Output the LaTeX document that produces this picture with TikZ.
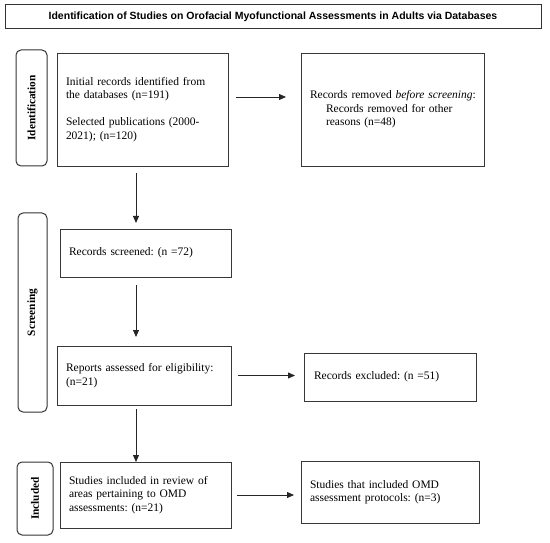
\documentclass[tikz,border=0pt]{standalone}
\usepackage{fontspec}
\usepackage{graphicx}
\setmainfont{Liberation Serif}
\newfontfamily\titlefont{Liberation Sans}
\usetikzlibrary{arrows.meta}
\frenchspacing
\hyphenpenalty=10000
\begin{document}
\begin{tikzpicture}[x=1pt,y=-1pt,
  box/.style={draw=black!78, line width=0.9pt, rectangle, anchor=north west, align=left,
    inner xsep=9pt, inner ysep=0pt, outer sep=0pt, font=\fontsize{11.5}{13.5}\selectfont},
  phase/.style={draw=black!80, line width=1pt, rounded corners=5pt, inner sep=0pt, outer sep=0pt,
    font=\fontsize{11.3}{13}\selectfont\bfseries},
  arr/.style={draw=black!85, line width=0.8pt, -{Triangle[length=7pt,width=6pt]}}
]
\useasboundingbox (0,0) rectangle (550,543);

% title
\node[draw=black!80, line width=1pt, minimum width=536pt, minimum height=24pt, inner sep=0pt,
  font=\titlefont\fontsize{10.5}{12}\selectfont\bfseries] (title) at (273,17)
  {Identification of Studies on Orofacial Myofunctional Assessments in Adults via Databases};

% phase labels
\node[phase, minimum width=31pt, minimum height=116pt] (idl) at (31.5,108) {\rotatebox{90}{Identification}};
\node[phase, minimum width=29pt, minimum height=199pt] (scl) at (32.5,312.5) {\rotatebox{90}{Screening}};
\node[phase, minimum width=36pt, minimum height=73pt] (inl) at (35,498.5) {\rotatebox{90}{Included}};

% boxes
\node[box, text width=153pt, minimum height=113pt] (b1) at (57,53)
  {Initial records identified from\\the databases (n=191)\\[13.5pt]Selected publications (2000-\\2021); (n=120)};
\node[box, text width=165pt, minimum height=113pt] (rem) at (301,53)
  {\mbox{Records removed \emph{before screening}:}\\\hspace*{16pt}Records removed for other\\\hspace*{16pt}reasons (n=48)};
\node[box, text width=153pt, minimum height=48pt] (scr) at (60,229)
  {Records screened: (n =72)};
\node[box, text width=156pt, minimum height=59pt] (rep) at (57,346)
  {Reports assessed for eligibility:\\(n=21)};
\node[box, text width=152pt, minimum height=48pt, inner xsep=10pt] (exc) at (304,353)
  {Records excluded: (n =51)};
\node[box, text width=153pt, minimum height=66pt] (stu) at (60,462)
  {Studies included in review of\\areas pertaining to OMD\\assessments: (n=21)};
\node[box, text width=160pt, minimum height=62pt] (omd) at (301,461)
  {Studies that included OMD\\assessment protocols: (n=3)};

% vertical arrows
\draw[arr, shorten <=7pt, shorten >=6pt] ([xshift=-6.5pt]b1.south) -- ([xshift=-6.5pt]b1.south |- scr.north);
\draw[arr, shorten <=8pt, shorten >=9pt] ([xshift=-9.5pt]scr.south) -- ([xshift=-9.5pt]scr.south |- rep.north);
\draw[arr, shorten <=4pt] ([xshift=-8pt]rep.south) -- ([xshift=-8pt]rep.south |- stu.north);

% horizontal arrows
\draw[arr, shorten <=8pt, shorten >=15pt] ([yshift=12.5pt]b1.east) -- ([yshift=12.5pt]b1.east -| rem.west);
\draw[arr, shorten <=7pt, shorten >=9pt] (rep.east) -- (rep.east -| exc.west);
\draw[arr, shorten <=6pt, shorten >=7pt] (stu.east) -- (stu.east -| omd.west);
\end{tikzpicture}
\end{document}
